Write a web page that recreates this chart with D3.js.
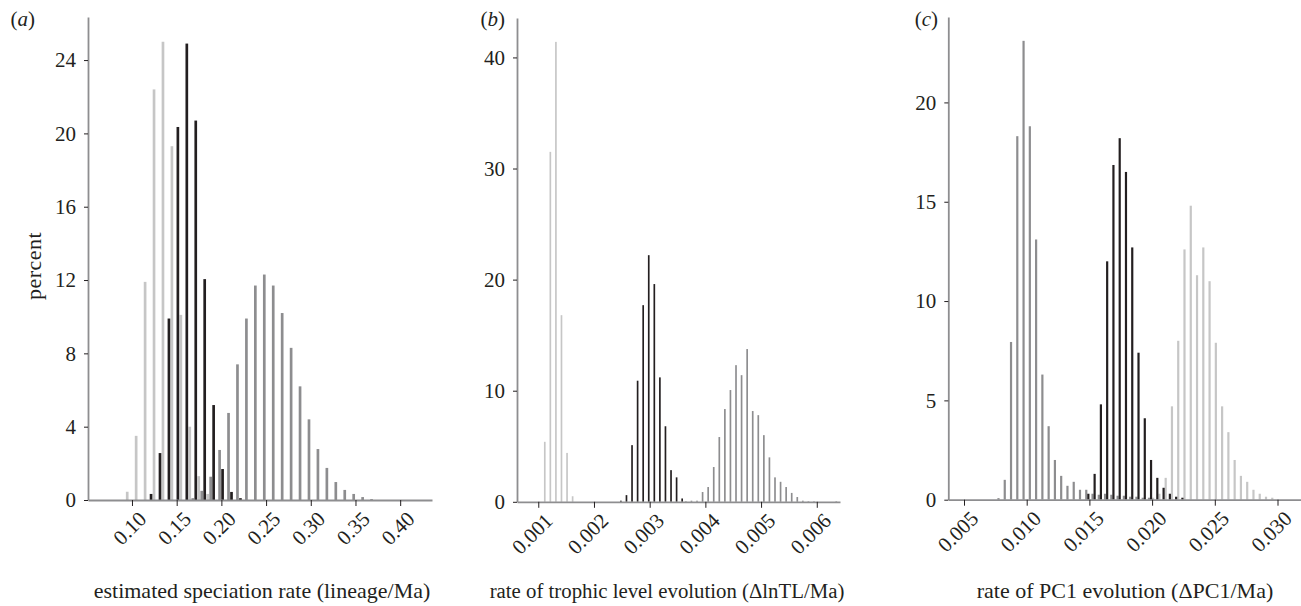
<!DOCTYPE html>
<html>
<head>
<meta charset="utf-8">
<script src="https://cdn.jsdelivr.net/npm/d3@7"></script>
<style>
  body { margin: 0; background: #fff; }
  svg { display: block; }
</style>
</head>
<body>
<svg id="chart" width="1301" height="606"></svg>
<script>
// ---------- data (percent per bin, three groups: light, mid, black) ----------
const speciationBins = [
  0.098, 0.108, 0.118, 0.128, 0.138, 0.148, 0.158, 0.168, 0.178, 0.188,
  0.198, 0.208, 0.218, 0.228, 0.238, 0.248, 0.258, 0.268, 0.278, 0.288,
  0.298, 0.308, 0.318, 0.328, 0.338, 0.348, 0.358, 0.368
];
const speciationLight = [0.45, 3.5, 11.9, 22.4, 25.0, 19.3, 10.1, 4.0, 1.3, 0.33,
  0, 0, 0, 0, 0, 0, 0, 0, 0, 0, 0, 0, 0, 0, 0, 0, 0, 0];
const speciationMid = [0, 0, 0, 0, 0, 0, 0, 0.1, 0.5, 1.27,
  2.73, 4.75, 7.4, 9.9, 11.7, 12.3, 11.7, 10.2, 8.3, 6.2,
  4.4, 2.78, 1.75, 0.98, 0.55, 0.33, 0.16, 0.05];
const speciationBlack = [0, 0, 0.33, 2.56, 9.9, 20.35, 24.9, 20.7, 12.05, 5.18,
  1.69, 0.44, 0.1, 0, 0, 0, 0, 0, 0, 0, 0, 0, 0, 0, 0, 0, 0, 0];

const trophicBins = [
  0.00115, 0.00125, 0.00135, 0.00145, 0.00155, 0.00165, 0.00175, 0.00185, 0.00195, 0.00205,
  0.00215, 0.00225, 0.00235, 0.00245, 0.00255, 0.00265, 0.00275, 0.00285, 0.00295, 0.00305,
  0.00315, 0.00325, 0.00335, 0.00345, 0.00355, 0.00365, 0.00375, 0.00385, 0.00395, 0.00405,
  0.00415, 0.00425, 0.00435, 0.00445, 0.00455, 0.00465, 0.00475, 0.00485, 0.00495, 0.00505,
  0.00515, 0.00525, 0.00535, 0.00545, 0.00555, 0.00565, 0.00575, 0.00585, 0.00595, 0.00605,
  0.00615, 0.00625, 0.00635
];
const trophicLight = [5.4, 31.5, 41.4, 16.8, 4.4, 0.5, 0, 0, 0, 0,
  0, 0, 0, 0, 0, 0, 0, 0, 0, 0, 0, 0, 0, 0, 0, 0, 0, 0, 0, 0,
  0, 0, 0, 0, 0, 0, 0, 0, 0, 0, 0, 0, 0, 0, 0, 0, 0, 0, 0, 0, 0, 0, 0];
const trophicMid = [0, 0, 0, 0, 0, 0, 0, 0, 0, 0, 0, 0, 0, 0, 0, 0, 0, 0, 0, 0, 0, 0, 0, 0, 0,
  0.05, 0.1, 0.1, 0.88, 1.33, 3.13, 5.83, 8.35, 10.06, 12.3,
  11.4, 13.75, 8.17, 7.8, 6.0, 4.0, 2.2, 1.8, 1.33, 0.8,
  0.43, 0.1, 0.05, 0.05, 0, 0, 0, 0.05];
const trophicBlack = [0, 0, 0, 0, 0, 0, 0, 0, 0, 0, 0, 0, 0,
  0.1, 0.6, 5.1, 10.9, 17.7, 22.2, 19.6, 11.2, 6.8, 2.85, 2.2, 0.3,
  0, 0, 0, 0, 0, 0, 0, 0, 0, 0, 0, 0, 0, 0, 0, 0, 0, 0, 0, 0, 0, 0, 0, 0, 0, 0, 0, 0];

const pc1Bins = [
  0.00775, 0.00825, 0.00875, 0.00925, 0.00975, 0.01025, 0.01075, 0.01125, 0.01175, 0.01225,
  0.01275, 0.01325, 0.01375, 0.01425, 0.01475, 0.01525, 0.01575, 0.01625, 0.01675, 0.01725,
  0.01775, 0.01825, 0.01875, 0.01925, 0.01975, 0.02025, 0.02075, 0.02125, 0.02175, 0.02225,
  0.02275, 0.02325, 0.02375, 0.02425, 0.02475, 0.02525, 0.02575, 0.02625, 0.02675, 0.02725,
  0.02775, 0.02825, 0.02875, 0.02925, 0.02975
];
const pc1Light = [0, 0, 0, 0, 0, 0, 0, 0, 0, 0, 0, 0, 0, 0, 0, 0, 0, 0, 0, 0, 0, 0, 0, 0, 0,
  0.1, 0.3, 1.1, 4.7, 8.0, 12.6, 14.8, 11.3, 12.7, 11.0,
  7.9, 4.7, 3.4, 2.0, 1.2, 0.9, 0.5, 0.3, 0.15, 0.1];
const pc1Mid = [0.08, 1.0, 7.94, 18.3, 23.1, 18.8, 13.1, 6.3, 3.7, 2.0,
  1.2, 0.7, 0.9, 0.5, 0.5, 0.3, 0.25, 0.3, 0.25, 0.2,
  0.2, 0.15, 0.15, 0.1, 0.1,
  0, 0, 0, 0, 0, 0, 0, 0, 0, 0, 0, 0, 0, 0, 0, 0, 0, 0, 0, 0];
const pc1Black = [0, 0, 0, 0, 0, 0, 0, 0, 0, 0, 0, 0, 0, 0,
  0.3, 1.3, 4.8, 12.0, 16.85, 18.2, 16.5, 12.7, 7.4, 4.1, 2.0,
  1.1, 0.6, 0.3, 0.15, 0.1,
  0, 0, 0, 0, 0, 0, 0, 0, 0, 0, 0, 0, 0, 0, 0];

const speciationTicks = [0.10, 0.15, 0.20, 0.25, 0.30, 0.35, 0.40];
const trophicTicks = [0.001, 0.002, 0.003, 0.004, 0.005, 0.006];
const pc1Ticks = [0.005, 0.010, 0.015, 0.020, 0.025, 0.030];
const speciationYTicks = [0, 4, 8, 12, 16, 20, 24];
const trophicYTicks = [0, 10, 20, 30, 40];
const pc1YTicks = [0, 5, 10, 15, 20];

const seriesColors = ["#c6c6c6", "#8d8d8f", "#231f20"];
const axisColor = "#8e8e90";
const textColor = "#231f20";
const serif = "'Liberation Serif', 'Times New Roman', serif";

// ---------- panels ----------
const panels = [
  {
    tag: "a", tagX: 35, bins: speciationBins,
    series: [speciationLight, speciationMid, speciationBlack],
    xDomain: [0.0508, 0.4356], xRange: [88, 432],
    yDomain: [0, 26.35], yRange: [500, 17],
    xTicks: speciationTicks, yTicks: speciationYTicks, fmt: d3.format(".2f"),
    title: "estimated speciation rate (lineage/Ma)", titleX: 262, titleSize: 22, barFrac: 0.9
  },
  {
    tag: "b", tagX: 505, bins: trophicBins,
    series: [trophicLight, trophicMid, trophicBlack],
    xDomain: [0.000618, 0.006417], xRange: [517, 840],
    yDomain: [0, 43.55], yRange: [501.8, 18],
    xTicks: trophicTicks, yTicks: trophicYTicks, fmt: d3.format(".3f"),
    title: "rate of trophic level evolution (\u0394lnTL/Ma)", titleX: 667, titleSize: 20.8, barFrac: 0.9
  },
  {
    tag: "c", tagX: 938, bins: pc1Bins,
    series: [pc1Light, pc1Mid, pc1Black],
    xDomain: [0.003748, 0.031874], xRange: [948.3, 1301],
    yDomain: [0, 24.3], yRange: [499.7, 17],
    xTicks: pc1Ticks, yTicks: pc1YTicks, fmt: d3.format(".3f"),
    title: "rate of PC1 evolution (\u0394PC1/Ma)", titleX: 1125, titleSize: 22, barFrac: 1.05
  }
];

const svg = d3.select("#chart");

panels.forEach(p => {
  const x = d3.scaleLinear().domain(p.xDomain).range(p.xRange);
  const y = d3.scaleLinear().domain(p.yDomain).range(p.yRange);
  const g = svg.append("g");

  const binW = p.bins[1] - p.bins[0];
  const slot = binW / 3;
  const barW = (x(slot) - x(0)) * p.barFrac;

  // ---------- bars ----------
  p.series.forEach((vals, s) => {
    const pts = p.bins.map((b, i) => ({ x: b + (s - 1) * slot, v: vals[i] }))
      .filter(d => d.v > 0);
    g.append("g").selectAll("rect")
      .data(pts)
      .join("rect")
      .attr("x", d => x(d.x) - barW / 2)
      .attr("width", barW)
      .attr("y", d => y(d.v))
      .attr("height", d => y(0) - y(d.v))
      .attr("fill", seriesColors[s]);
  });

  // ---------- y axis ----------
  const yAxis = g.append("g")
    .attr("transform", `translate(${p.xRange[0]},0)`)
    .call(d3.axisLeft(y).tickValues(p.yTicks).tickSize(4).tickSizeOuter(0).tickPadding(8));
  yAxis.select(".domain").attr("stroke", axisColor).attr("stroke-width", 1.8);
  yAxis.selectAll(".tick line").attr("stroke", textColor);
  yAxis.selectAll(".tick text")
    .attr("fill", textColor)
    .style("font-family", serif)
    .style("font-size", "21px");

  // ---------- x axis ----------
  const xAxis = g.append("g")
    .attr("transform", `translate(0,${p.yRange[0]})`)
    .call(d3.axisBottom(x).tickValues(p.xTicks).tickFormat(p.fmt).tickSize(6).tickSizeOuter(0));
  xAxis.select(".domain").attr("stroke", axisColor).attr("stroke-width", 1.8);
  xAxis.selectAll(".tick line").attr("stroke", textColor);
  xAxis.selectAll(".tick text")
    .attr("fill", textColor)
    .attr("text-anchor", "end")
    .attr("x", 0)
    .attr("y", 0)
    .attr("dy", "0.35em")
    .attr("transform", "translate(10,15) rotate(-45)")
    .style("font-family", serif)
    .style("font-size", "21px");

  // ---------- titles ----------
  svg.append("text")
    .attr("x", p.titleX)
    .attr("y", 598)
    .attr("text-anchor", "middle")
    .attr("fill", textColor)
    .style("font-family", serif)
    .style("font-size", p.titleSize + "px")
    .text(p.title);

  const tag = svg.append("text")
    .attr("x", p.tagX)
    .attr("y", 26)
    .attr("text-anchor", "end")
    .attr("fill", textColor)
    .style("font-family", serif)
    .style("font-size", "21px");
  tag.append("tspan").text("(");
  tag.append("tspan").style("font-style", "italic").text(p.tag);
  tag.append("tspan").text(")");
});

svg.append("text")
  .attr("transform", "translate(41,266) rotate(-90)")
  .attr("text-anchor", "middle")
  .attr("fill", textColor)
  .style("font-family", serif)
  .style("font-size", "22px")
  .style("letter-spacing", "0.5px")
  .text("percent");
</script>
</body>
</html>
